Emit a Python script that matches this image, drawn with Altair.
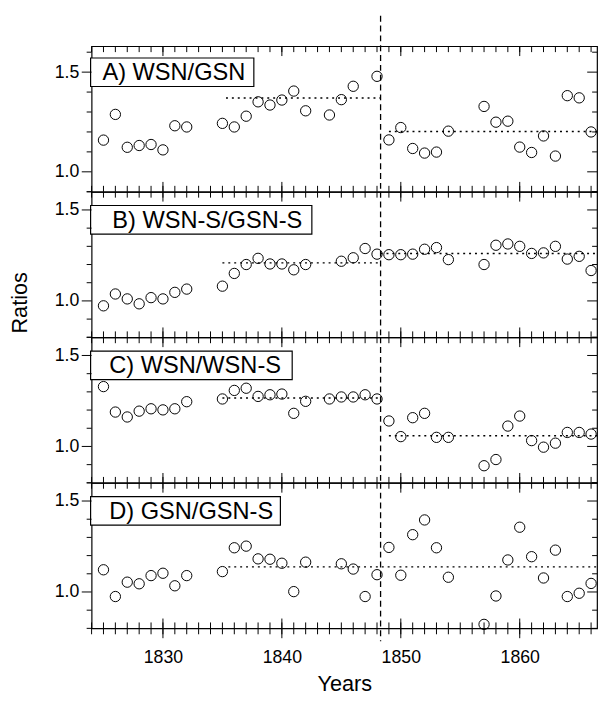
import altair as alt
import pandas as pd

FONT = "Liberation Sans"

# ---------------- data ----------------
A_years = [1825, 1826, 1827, 1828, 1829, 1830, 1831, 1832,
           1835, 1836, 1837, 1838, 1839, 1840, 1841, 1842,
           1844, 1845, 1846, 1848,
           1849, 1850, 1851, 1852, 1853, 1854,
           1857, 1858, 1859, 1860, 1861, 1862, 1863, 1864, 1865, 1866]
A_vals = [1.159, 1.288, 1.123, 1.132, 1.137, 1.110, 1.231, 1.225,
          1.243, 1.225, 1.279, 1.351, 1.335, 1.360, 1.405, 1.306,
          1.285, 1.362, 1.429, 1.479,
          1.160, 1.222, 1.117, 1.094, 1.099, 1.204,
          1.328, 1.249, 1.254, 1.124, 1.097, 1.180, 1.079, 1.382, 1.371, 1.200]

B_years = [1825, 1826, 1827, 1828, 1829, 1830, 1831, 1832,
           1835, 1836, 1837, 1838, 1839, 1840, 1841, 1842,
           1845, 1846, 1847, 1848,
           1849, 1850, 1851, 1852, 1853, 1854,
           1857, 1858, 1859, 1860, 1861, 1862, 1863, 1864, 1865, 1866]
B_vals = [0.973, 1.038, 1.011, 0.984, 1.018, 1.011, 1.047, 1.065,
          1.081, 1.151, 1.200, 1.234, 1.203, 1.203, 1.171, 1.200,
          1.218, 1.237, 1.288, 1.257,
          1.254, 1.254, 1.257, 1.284, 1.293, 1.227,
          1.200, 1.306, 1.313, 1.300, 1.261, 1.264, 1.300, 1.230, 1.245, 1.167]

C_years = [1825, 1826, 1827, 1828, 1829, 1830, 1831, 1832,
           1835, 1836, 1837, 1838, 1839, 1840, 1841, 1842,
           1844, 1845, 1846, 1847, 1848,
           1849, 1850, 1851, 1852, 1853, 1854,
           1857, 1858, 1859, 1860, 1861, 1862, 1863, 1864, 1865, 1866]
C_vals = [1.329, 1.189, 1.162, 1.194, 1.207, 1.201, 1.207, 1.246,
          1.261, 1.308, 1.320, 1.275, 1.284, 1.288, 1.182, 1.248,
          1.261, 1.272, 1.272, 1.284, 1.261,
          1.140, 1.054, 1.158, 1.182, 1.050, 1.050,
          0.894, 0.928, 1.112, 1.167, 1.032, 0.996, 1.018, 1.077, 1.077, 1.068]

D_years = [1825, 1826, 1827, 1828, 1829, 1830, 1831, 1832,
           1835, 1836, 1837, 1838, 1839, 1840, 1841, 1842,
           1845, 1846, 1847, 1848,
           1849, 1850, 1851, 1852, 1853, 1854,
           1857, 1858, 1859, 1860, 1861, 1862, 1863, 1864, 1865, 1866]
D_vals = [1.122, 0.975, 1.054, 1.045, 1.090, 1.103, 1.034, 1.090,
          1.112, 1.243, 1.252, 1.182, 1.180, 1.158, 1.002, 1.164,
          1.155, 1.126, 0.975, 1.095,
          1.245, 1.092, 1.315, 1.396, 1.243, 1.081,
          0.822, 0.978, 1.176, 1.356, 1.194, 1.077, 1.230, 0.975, 0.993, 1.047]

# mean levels (start, end, value)
A_means_start = [1835.3, 1849.0]
A_means_end = [1848.3, 1866.5]
A_means_val = [1.370, 1.202]
B_means_start = [1835.0, 1848.3]
B_means_end = [1848.3, 1866.5]
B_means_val = [1.209, 1.261]
C_means_start = [1835.0, 1849.0]
C_means_end = [1848.3, 1866.5]
C_means_val = [1.266, 1.059]
D_means_start = [1835.5]
D_means_end = [1866.5]
D_means_val = [1.138]

labels = ["A) WSN/GSN", "B) WSN-S/GSN-S", "C) WSN/WSN-S", "D) GSN/GSN-S"]

x_domain = [1824, 1866.5]
split_year = 1848.3
minor_years = list(range(1824, 1867))
major_years = [1830, 1840, 1850, 1860]
y_major = [1.0, 1.5]
yA_minor = [0.9, 1.1, 1.2, 1.3, 1.4, 1.6]
y_minor = [0.8, 0.9, 1.1, 1.2, 1.3, 1.4, 1.6]

W, H = 514, 148


def panel(label, yrs, vals, ydom, ms, me, mv, yminor, box, txt_x,
          first=False, last=False, ytitle=False):
    xscale = alt.Scale(domain=x_domain, nice=False, zero=False)
    yscale = alt.Scale(domain=ydom, nice=False, zero=False)
    if last:
        xaxis = alt.Axis(values=major_years, format="d", ticks=False, tickSize=0,
                         domain=False, grid=False, labelPadding=21, labelFontSize=18,
                         labelFont=FONT, labelColor="black", title="Years",
                         titleFont=FONT, titleFontSize=22, titleFontWeight="normal",
                         titleColor="black", titlePadding=7)
    else:
        xaxis = None
    yaxis = alt.Axis(values=y_major, format=".1f", ticks=False, tickSize=0,
                     domain=False, grid=False, labelPadding=13, labelFontSize=18,
                     labelFont=FONT, labelColor="black", title=None)

    def X(f):
        return alt.X(f, scale=xscale, axis=xaxis)

    def Y(f):
        return alt.Y(f, scale=yscale, axis=yaxis)

    layers = []
    lab = pd.DataFrame({"label": [label]})
    bx0, bx1, by0, by1 = box
    layers.append(alt.Chart(lab).mark_rect(fill="white", stroke="black", strokeWidth=1.2)
                  .encode(x=alt.value(bx0), x2=alt.value(bx1),
                          y=alt.value(by0), y2=alt.value(by1)))
    layers.append(alt.Chart(lab).mark_text(align="left", baseline="middle", fontSize=24,
                                           font=FONT, color="black")
                  .encode(x=alt.value(txt_x), y=alt.value((by0 + by1) / 2 + 1), text="label:N"))

    # split line
    y0 = -31 if first else 0
    y1 = H + 13 if last else H
    layers.append(alt.Chart(pd.DataFrame({"s": [split_year]}))
                  .mark_rule(color="black", strokeWidth=1.3, strokeDash=[6, 4])
                  .encode(x=X("s:Q"), y=alt.value(y0), y2=alt.value(y1)))

    # mean lines
    layers.append(alt.Chart(pd.DataFrame({"x1": ms, "x2": me, "m": mv}))
                  .mark_rule(color="black", strokeWidth=1.5, strokeDash=[2, 4])
                  .encode(x=X("x1:Q"), x2="x2:Q", y=Y("m:Q")))

    # x ticks (inward top and bottom, crossing at the bottom of the last panel)
    tmin = pd.DataFrame({"t": minor_years})
    tmaj = pd.DataFrame({"t": major_years})
    layers.append(alt.Chart(tmin).mark_rule(color="black", strokeWidth=1)
                  .encode(x=X("t:Q"), y=alt.value(0), y2=alt.value(6)))
    layers.append(alt.Chart(tmaj).mark_rule(color="black", strokeWidth=1)
                  .encode(x=X("t:Q"), y=alt.value(0), y2=alt.value(10)))
    layers.append(alt.Chart(tmin).mark_rule(color="black", strokeWidth=1)
                  .encode(x=X("t:Q"), y=alt.value(H - 6), y2=alt.value(H + 6 if last else H)))
    layers.append(alt.Chart(tmaj).mark_rule(color="black", strokeWidth=1)
                  .encode(x=X("t:Q"), y=alt.value(H - 10), y2=alt.value(H + 10 if last else H)))

    # y ticks: outward on left, inward on right
    ymin = pd.DataFrame({"v": yminor})
    ymaj = pd.DataFrame({"v": y_major})
    layers.append(alt.Chart(ymin).mark_rule(color="black", strokeWidth=1)
                  .encode(y=Y("v:Q"), x=alt.value(-5), x2=alt.value(0)))
    layers.append(alt.Chart(ymaj).mark_rule(color="black", strokeWidth=1)
                  .encode(y=Y("v:Q"), x=alt.value(-10), x2=alt.value(0)))
    layers.append(alt.Chart(ymin).mark_rule(color="black", strokeWidth=1)
                  .encode(y=Y("v:Q"), x=alt.value(W - 5), x2=alt.value(W)))
    layers.append(alt.Chart(ymaj).mark_rule(color="black", strokeWidth=1)
                  .encode(y=Y("v:Q"), x=alt.value(W - 10), x2=alt.value(W)))

    # points
    pts = pd.DataFrame({"year": yrs, "ratio": vals})
    layers.append(alt.Chart(pts).mark_point(shape="circle", filled=False, size=110,
                                            color="black", strokeWidth=1, opacity=1)
                  .encode(x=X("year:Q"), y=Y("ratio:Q")))

    if ytitle:
        layers.append(alt.Chart(pd.DataFrame({"t": ["Ratios"]}))
                      .mark_text(angle=270, align="center", baseline="alphabetic",
                                 fontSize=22, font=FONT, color="black")
                      .encode(x=alt.value(-65.5), y=alt.value(113), text="t:N"))

    return alt.layer(*layers).properties(width=W, height=H)


pA = panel(labels[0], A_years, A_vals, [0.9, 1.63], A_means_start, A_means_end, A_means_val,
           yA_minor, (-1, 165, 12, 41), 11, first=True)
pB = panel(labels[1], B_years, B_vals, [0.8, 1.6], B_means_start, B_means_end, B_means_val,
           y_minor, (-1, 224, 14, 43), 21, ytitle=True)
pC = panel(labels[2], C_years, C_vals, [0.8, 1.6], C_means_start, C_means_end, C_means_val,
           y_minor, (-1, 204, 14, 43), 18)
pD = panel(labels[3], D_years, D_vals, [0.8, 1.6], D_means_start, D_means_end, D_means_val,
           y_minor, (-1, 192, 14, 43), 18, last=True)

chart = alt.vconcat(pA, pB, pC, pD, spacing=0, bounds="flush").configure_view(
    stroke="black", strokeWidth=1.2
).properties(
    padding={"left": 0, "right": 0, "top": 0, "bottom": 0},
    background="white",
)

chart.save("out.html", embed_options={"renderer": "svg", "actions": False})
